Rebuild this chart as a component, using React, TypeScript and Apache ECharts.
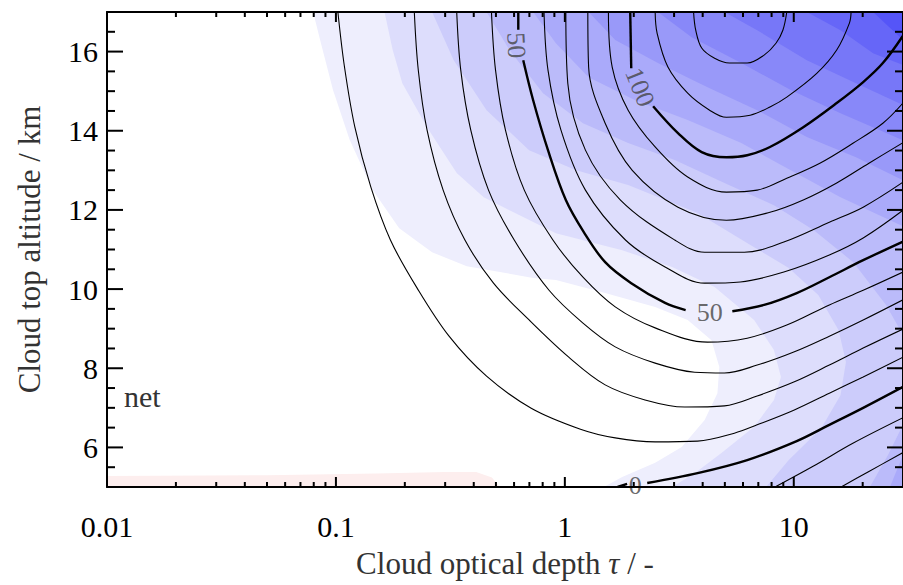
import React, { useEffect, useRef } from "react";
import * as echarts from "echarts";

// ---------- axes ----------
const TAU_MIN = 0.01;
const TAU_MAX = 30;
const ALT_MIN = 5;
const ALT_MAX = 17;
const xMajorTicks = [0.01, 0.1, 1, 10];
const xMinorTicks = [
  0.02, 0.03, 0.04, 0.05, 0.06, 0.07, 0.08, 0.09,
  0.2, 0.3, 0.4, 0.5, 0.6, 0.7, 0.8, 0.9,
  2, 3, 4, 5, 6, 7, 8, 9, 20,
];
const yMajorTicks = [6, 8, 10, 12, 14, 16];
const yMinorTicks = [
  5.5, 6.5, 7, 7.5, 8.5, 9, 9.5, 10.5, 11, 11.5, 12.5, 13, 13.5, 14.5, 15, 15.5, 16.5,
];

// ---------- contour lines [tau, altitude] ----------
const c120 = [[3.65, 17], [3.73, 16.54], [3.96, 16.09], [4.51, 15.83], [5.23, 15.71], [6.26, 15.71], [7.42, 15.91], [8.36, 16.21], [8.96, 16.54], [9.32, 17]];
const c110 = [[2.48, 17], [2.53, 16.46], [2.82, 15.61], [3.44, 14.95], [4.29, 14.52], [5.08, 14.34], [6.45, 14.39], [7.87, 14.6], [9.32, 14.85], [12.6, 15.45], [15.4, 16.04], [17.5, 16.72], [17.8, 17]];
const c100a = [[1.93, 17], [1.95, 15.58]];
const c100b = [[2.43, 14.62], [3.12, 13.94], [3.96, 13.46], [5.08, 13.33], [6.26, 13.38], [7.87, 13.59], [11.0, 14.09], [15.4, 14.7], [20.1, 15.23], [24.5, 15.71], [30, 16.4]];
const c90 = [[1.55, 17], [1.61, 15.61], [1.89, 14.52], [2.48, 13.59], [3.44, 12.83], [5.08, 12.45], [6.92, 12.5], [9.32, 12.8], [13.0, 13.18], [18.2, 13.69], [24.5, 14.19], [30, 14.7]];
const c80 = [[1.26, 17], [1.27, 15.61], [1.5, 14.19], [1.97, 13.0], [3.12, 12.07], [5.08, 11.74], [7.87, 11.94], [11.0, 12.25], [15.4, 12.68], [21.3, 13.18], [30, 13.7]];
const c70 = [[1.01, 17], [1.03, 15.2], [1.23, 13.51], [1.75, 12.25], [3.02, 11.24], [4.08, 10.93], [6.08, 10.93], [9.05, 11.19], [14.3, 11.69], [20.1, 12.07], [30, 12.7]];
const c60 = [[0.811, 17], [0.844, 15.53], [0.961, 14.02], [1.23, 12.5], [1.84, 11.24], [2.74, 10.56], [4.08, 10.15], [5.84, 10.18], [9.05, 10.43], [14.3, 10.86], [20.1, 11.29], [30, 11.99]];
const c50a = [[0.626, 17], [0.626, 16.55]];
const c50b = [[0.658, 15.78], [0.727, 14.77], [0.844, 13.51], [1.01, 12.25], [1.21, 11.44], [1.5, 10.68], [1.95, 10.15], [2.74, 9.65], [3.37, 9.47]];
const c50c = [[5.39, 9.44], [7.42, 9.6], [10.3, 9.9], [14.3, 10.3], [20.1, 10.73], [30, 11.2]];
const c40 = [[0.478, 17], [0.498, 15.53], [0.55, 14.02], [0.665, 12.5], [0.887, 11.24], [1.2, 10.3], [1.66, 9.55], [2.48, 9.02], [4.2, 8.66], [6.26, 8.76], [9.32, 9.09], [14.3, 9.6], [20.1, 9.97], [30, 10.43]];
const c30 = [[0.337, 17], [0.351, 15.53], [0.388, 14.02], [0.464, 12.5], [0.601, 11.24], [0.853, 9.97], [1.2, 9.14], [1.66, 8.54], [2.48, 8.13], [3.69, 7.9], [4.98, 7.88], [6.92, 8.08], [10, 8.41], [14.3, 8.81], [20.1, 9.22], [30, 9.73]];
const c20 = [[0.22, 17], [0.229, 15.53], [0.25, 14.02], [0.294, 12.5], [0.366, 11.24], [0.488, 10.15], [0.698, 9.22], [1.04, 8.28], [1.5, 7.58], [2.24, 7.2], [3.34, 7.02], [4.98, 7.05], [6.92, 7.3], [10, 7.65], [14.3, 8.08], [20.1, 8.51], [30, 8.99]];
const c10 = [[0.102, 17], [0.109, 15.61], [0.121, 14.09], [0.142, 12.58], [0.173, 11.24], [0.226, 10.03], [0.312, 8.81], [0.455, 7.8], [0.713, 6.99], [1.17, 6.46], [1.66, 6.24], [2.48, 6.14], [3.8, 6.16], [5.5, 6.36], [6.92, 6.57], [10, 6.94], [14.3, 7.37], [20.1, 7.78], [30, 8.28]];
const c0a = [[1.7, 5], [1.87, 5.08]];
const c0b = [[2.29, 5.1], [3.8, 5.35], [6.26, 5.68], [10.3, 6.16], [14.3, 6.57], [20.1, 7.0], [30, 7.53]];
const cm10 = [[8.28, 5], [12.2, 5.53], [18.2, 6.11], [30, 6.75]];
const cm20 = [[16.1, 5], [21.1, 5.38], [30, 5.87]];

const thinLines = [c120, c110, c90, c80, c70, c60, c40, c30, c20, c10, cm10, cm20];
const thickLines = [c100a, c100b, c50a, c50b, c50c, c0a, c0b];

// contour labels: [tau, altitude], text, rotation
const labelPoints = [[0.614, 16.16], [2.13, 15.1], [4.29, 9.42], [2.03, 5.05]];
const labelTexts = ["50", "100", "50", "0"];
const labelRotations = [-87, -68, 0, 0];

// ---------- filled bands (net), lightest to darkest ----------
const pinkRing = [[0.01, 5], [0.01, 5.28], [0.05, 5.3], [0.15, 5.34], [0.3, 5.38], [0.41, 5.38], [0.48, 5.24], [0.52, 5]];
const bandEE = [[0.0795, 17], [0.0853, 16.29], [0.0971, 15.03], [0.115, 13.76], [0.145, 12.5], [0.189, 11.54], [0.263, 10.93], [0.373, 10.58], [0.727, 10.28], [0.914, 10.23], [1.5, 9.9], [2.48, 9.55], [3.44, 9.22], [4.37, 8.71], [4.73, 8.03], [4.64, 7.37], [4.08, 6.69], [3.24, 6.01], [2.48, 5.61], [1.78, 5.25], [1.48, 5], [30, 5], [30, 17]];
const bandDD = [[0.163, 17], [0.177, 16.04], [0.195, 15.2], [0.25, 14.09], [0.337, 12.93], [0.442, 12.32], [0.573, 11.99], [0.914, 11.41], [1.78, 10.98], [2.94, 10.56], [4.51, 10.05], [6.71, 9.22], [8.19, 8.46], [8.79, 7.78], [8.19, 7.2], [6.71, 6.52], [4.83, 5.86], [3.69, 5.35], [2.94, 5], [30, 5], [30, 17]];
const bandCC = [[0.263, 17], [0.327, 15.78], [0.455, 14.52], [0.698, 13.51], [1.12, 13.0], [1.89, 12.63], [3.8, 11.92], [6.71, 11.06], [9.51, 10.53], [12.8, 9.85], [15.7, 8.96], [16.9, 8.16], [16.0, 7.32], [13.2, 6.49], [9.51, 5.68], [7.57, 5], [30, 5], [30, 17]];
const bandBB = [[0.455, 17], [0.573, 16.04], [0.803, 14.95], [1.2, 14.19], [1.89, 13.69], [3.02, 13.26], [4.98, 12.68], [8.19, 12.12], [12.2, 11.49], [18.2, 10.68], [25.3, 9.6], [30, 8.84], [30, 17]];
const bandBBlow = [[30, 6.57], [25.8, 5.81], [21.5, 5], [30, 5]];
const bandAA = [[0.727, 17], [0.914, 16.21], [1.27, 15.35], [2.03, 14.77], [3.44, 14.27], [5.9, 13.69], [9.7, 13.0], [16.0, 12.32], [30, 11.59], [30, 17]];
const bandAAlow = [[30, 5.81], [26.3, 5], [30, 5]];
const band99 = [[1.27, 17], [1.66, 16.29], [2.55, 15.71], [4.2, 15.1], [6.92, 14.52], [11.4, 13.84], [18.7, 13.33], [30, 12.75], [30, 17]];
const band88 = [[2.55, 17], [3.58, 16.36], [5.9, 15.71], [9.7, 15.03], [16.0, 14.44], [30, 13.76], [30, 17]];
const band77 = [[4.98, 17], [6.92, 16.54], [11.4, 15.78], [18.7, 15.2], [30, 14.65], [30, 17]];
const band66 = [[11.4, 17], [16.0, 16.54], [22.2, 15.96], [30, 15.66], [30, 17]];
const band55 = [[22.2, 17], [30, 16.29], [30, 17]];

const bandRings = [pinkRing, bandEE, bandDD, bandCC, bandBB, bandBBlow, bandAA, bandAAlow, band99, band88, band77, band66, band55];
const bandColors = [
  "rgb(253,238,238)",
  "rgb(238,238,253)",
  "rgb(221,221,252)",
  "rgb(204,204,251)",
  "rgb(187,187,250)",
  "rgb(187,187,250)",
  "rgb(170,170,250)",
  "rgb(170,170,250)",
  "rgb(153,153,249)",
  "rgb(136,136,249)",
  "rgb(119,119,248)",
  "rgb(102,102,248)",
  "rgb(85,85,248)",
];

const FONT = "'Liberation Serif', 'Times New Roman', serif";

type Tick = { pos: number[]; dx: number; dy: number; w: number };
const tickItems: Tick[] = [
  ...xMajorTicks.filter((v) => v > TAU_MIN).flatMap((v) => [
    { pos: [v, ALT_MIN], dx: 0, dy: -10, w: 2 },
    { pos: [v, ALT_MAX], dx: 0, dy: 10, w: 2 },
  ]),
  ...xMinorTicks.flatMap((v) => [
    { pos: [v, ALT_MIN], dx: 0, dy: -5, w: 2 },
    { pos: [v, ALT_MAX], dx: 0, dy: 5, w: 2 },
  ]),
  ...yMajorTicks.flatMap((v) => [
    { pos: [TAU_MIN, v], dx: 16, dy: 0, w: 2 },
    { pos: [TAU_MAX, v], dx: -16, dy: 0, w: 2 },
  ]),
  ...yMinorTicks.flatMap((v) => [
    { pos: [TAU_MIN, v], dx: 8, dy: 0, w: 2 },
    { pos: [TAU_MAX, v], dx: -8, dy: 0, w: 2 },
  ]),
];

function buildOption(): any {
  const axisLine = { show: true, lineStyle: { color: "#000", width: 2 } };
  const lineSeries = (pts: number[][], width: number) => ({
    type: "line",
    data: pts,
    showSymbol: false,
    symbol: "none",
    smooth: 0.35,
    silent: true,
    z: 5,
    clip: true,
    lineStyle: { color: "#000", width },
  });
  return {
    animation: false,
    backgroundColor: "#fff",
    grid: { left: 107, top: 12, width: 803, height: 475, show: false },
    xAxis: [
      {
        type: "log",
        logBase: 10,
        min: TAU_MIN,
        max: TAU_MAX,
        position: "bottom",
        z: 10,
        axisLine,
        axisTick: { show: false },
        splitLine: { show: false },
        minorTick: { show: false },
        axisLabel: {
          show: true,
          showMaxLabel: false,
          margin: 24,
          fontSize: 30,
          fontFamily: FONT,
          color: "#000",
          formatter: (v: number) => String(+Number(v).toPrecision(3)),
        },
        name: "Cloud optical depth {i|τ} / -",
        nameLocation: "middle",
        nameGap: 61,
        nameTextStyle: {
          fontSize: 31,
          fontFamily: FONT,
          color: "#333",
          rich: { i: { fontSize: 31, fontFamily: FONT, fontStyle: "italic", color: "#333" } },
        },
      },
      {
        type: "log",
        logBase: 10,
        min: TAU_MIN,
        max: TAU_MAX,
        position: "top",
        z: 10,
        axisLine,
        axisTick: { show: false },
        splitLine: { show: false },
        axisLabel: { show: false },
      },
    ],
    yAxis: [
      {
        type: "value",
        min: ALT_MIN,
        max: ALT_MAX,
        interval: 1,
        position: "left",
        z: 10,
        axisLine,
        axisTick: { show: false },
        splitLine: { show: false },
        axisLabel: {
          margin: 9,
          fontSize: 30,
          fontFamily: FONT,
          color: "#000",
          formatter: (v: number) => (Math.round(v) % 2 === 0 ? String(v) : ""),
        },
        name: "Cloud top altitude / km",
        nameLocation: "middle",
        nameGap: 62,
        nameTextStyle: { fontSize: 31, fontFamily: FONT, color: "#333" },
      },
      {
        type: "value",
        min: ALT_MIN,
        max: ALT_MAX,
        interval: 1,
        position: "right",
        z: 10,
        axisLine,
        axisTick: { show: false },
        splitLine: { show: false },
        axisLabel: { show: false },
      },
    ],
    graphic: [
      {
        type: "text",
        left: 124,
        top: 381,
        z: 20,
        style: { text: "net", fontSize: 30, fontFamily: FONT, fill: "#333" },
      },
    ],
    series: [
      {
        type: "custom",
        coordinateSystem: "cartesian2d",
        silent: true,
        z: 1,
        clip: true,
        data: bandRings.map((r) => r[0]),
        renderItem: (params: any, api: any) => {
          const ring = bandRings[params.dataIndex];
          return {
            type: "polygon",
            shape: { points: ring.map((p) => api.coord(p)) },
            style: { fill: bandColors[params.dataIndex], stroke: "none" },
          };
        },
      },
      ...thinLines.map((l) => lineSeries(l, 1.1)),
      ...thickLines.map((l) => lineSeries(l, 2.4)),
      {
        type: "scatter",
        silent: true,
        z: 6,
        symbolSize: 0,
        data: labelPoints.map((p, i) => ({
          value: p,
          label: {
            show: true,
            position: "inside",
            formatter: labelTexts[i],
            rotate: labelRotations[i],
            fontSize: 26,
            fontFamily: FONT,
            color: "#444",
          },
        })),
      },
      {
        type: "custom",
        coordinateSystem: "cartesian2d",
        silent: true,
        z: 12,
        clip: false,
        data: tickItems.map((t) => t.pos),
        renderItem: (params: any, api: any) => {
          const t = tickItems[params.dataIndex];
          const p = api.coord(t.pos);
          return {
            type: "line",
            shape: { x1: p[0], y1: p[1], x2: p[0] + t.dx, y2: p[1] + t.dy },
            style: { stroke: "#000", lineWidth: t.w },
          };
        },
      },
    ],
  };
}

export default function App() {
  const ref = useRef<HTMLDivElement>(null);
  useEffect(() => {
    if (!ref.current) return;
    const chart = echarts.init(ref.current, null, { renderer: "svg" });
    chart.setOption(buildOption());
    return () => chart.dispose();
  }, []);
  return (
    <div
      ref={ref}
      style={{ position: "fixed", left: 0, top: 0, width: 903, height: 585, background: "#fff" }}
    />
  );
}
